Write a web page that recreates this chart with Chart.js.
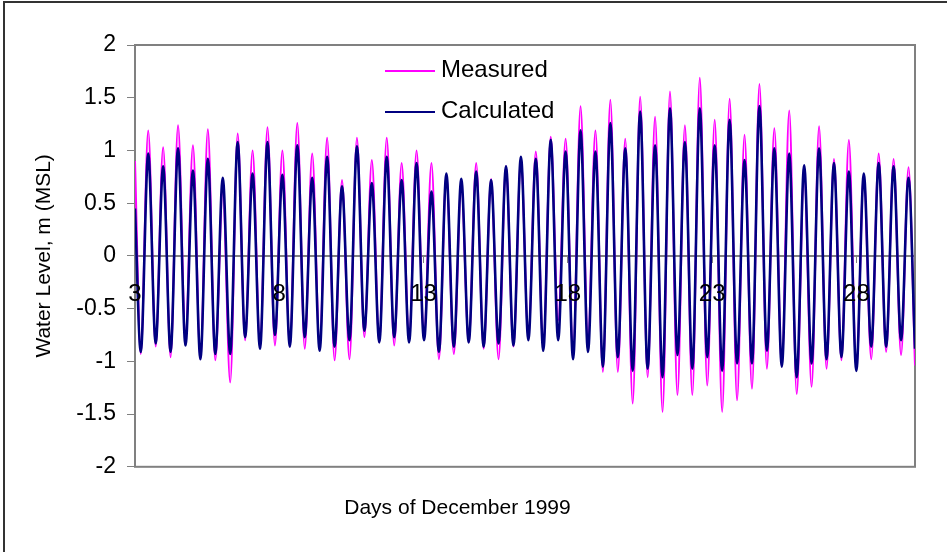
<!DOCTYPE html>
<html>
<head>
<meta charset="utf-8">
<title>Water Level - December 1999</title>
<script src="https://cdn.jsdelivr.net/npm/chart.js@4.4.1/dist/chart.umd.min.js"></script>
<style>
  html, body { margin: 0; padding: 0; background: #fff; }
  #wrap { position: relative; width: 947px; height: 552px; overflow: hidden; }
  #frame {
    position: absolute; left: 3px; top: 1px; width: 1000px; height: 1000px;
    border: 2px solid #333; pointer-events: none; box-sizing: border-box;
  }
</style>
</head>
<body>
<div id="wrap">
  <canvas id="chartTide" width="947" height="552"></canvas>
  <div id="frame"></div>
</div>
<script>
// Dias do eixo x (rótulos sobre a linha do zero)
const dayTicks = [3, 8, 13, 18, 23, 28];
const firstDay = 3;
const lastDay = 30.03;
// as marés (alta/baixa) começam neste dia e se alternam a cada meio ciclo
const firstExtremeDay = 3.2;
const halfCycleDays = 0.2583;

// Nível medido: valor inicial, depois baixa/alta alternadas, valor final
const measured = [
  0.90,
  -0.93, 1.19, -0.86, 1.03, -0.96, 1.24, -0.77, 1.05, -0.98, 1.20, -0.99, 0.62, -1.20, 1.16, -0.80, 1.00, -0.86, 1.22,
  -0.85, 1.00, -0.86, 1.26, -0.88, 0.97, -0.86, 1.12, -0.99, 0.72, -0.98, 1.12, -0.77, 0.91, -0.82, 1.12, -0.85, 0.88,
  -0.79, 1.00, -0.77, 0.88, -0.98, 0.77, -0.93, 0.67, -0.82, 0.88, -0.88, 0.73, -0.98, 0.85, -0.86, 0.92, -0.77, 0.99,
  -0.86, 1.13, -0.61, 1.11, -0.93, 1.42, -0.80, 1.19, -1.10, 1.48, -1.10, 1.11, -1.40, 1.51, -1.15, 1.32, -1.48, 1.56,
  -1.32, 1.24, -1.32, 1.69, -1.23, 1.29, -1.48, 1.49, -1.37, 1.15, -1.26, 1.63, -1.07, 1.21, -1.05, 1.38, -1.31, 0.81,
  -1.24, 1.23, -1.07, 0.92, -0.99, 1.10, -1.07, 0.77, -0.98, 0.97, -0.91, 0.92, -0.94, 0.84,
  -1.04
];

// Nível calculado, mesma ordem
const calculated = [
  0.45,
  -0.91, 0.97, -0.83, 0.85, -0.91, 1.02, -0.85, 0.81, -0.98, 0.92, -0.93, 0.74, -0.93, 1.08, -0.77, 0.78, -0.88, 1.08,
  -0.75, 0.77, -0.86, 1.05, -0.77, 0.74, -0.90, 0.94, -0.86, 0.66, -0.80, 1.04, -0.71, 0.69, -0.82, 0.94, -0.77, 0.72,
  -0.82, 0.88, -0.80, 0.61, -0.91, 0.78, -0.86, 0.73, -0.82, 0.80, -0.86, 0.72, -0.83, 0.85, -0.85, 0.94, -0.80, 0.92,
  -0.90, 1.10, -0.80, 0.99, -0.98, 1.19, -0.91, 0.99, -1.05, 1.26, -0.96, 1.02, -1.09, 1.37, -1.07, 1.05, -1.15, 1.40,
  -0.94, 1.08, -1.07, 1.40, -0.96, 1.05, -1.09, 1.29, -1.02, 0.91, -1.02, 1.42, -0.90, 1.02, -1.05, 0.97, -1.15, 0.86,
  -1.02, 1.02, -0.98, 0.88, -0.96, 0.80, -1.09, 0.78, -0.86, 0.88, -0.86, 0.85, -0.80, 0.74,
  -0.88
];

// Monta os pontos {x: dia, y: nível}
const toPoints = (values) => {
  return values.map((v, i) => {
    let day;
    if (i === 0) {
      day = firstDay;
    } else if (i === values.length - 1) {
      day = lastDay;
    } else {
      day = firstExtremeDay + (i - 1) * halfCycleDays;
    }
    return { x: day, y: v };
  });
};

const fontFamily = "'Liberation Sans', Arial, sans-serif";

// Moldura cinza da área do gráfico
const plotFrame = {
  id: "plotFrame",
  beforeDatasetsDraw(chart) {
    const { ctx, chartArea } = chart;
    ctx.save();
    ctx.strokeStyle = "#808080";
    ctx.lineWidth = 2;
    ctx.strokeRect(chartArea.left, chartArea.top, chartArea.right - chartArea.left, chartArea.bottom - chartArea.top);
    ctx.restore();
  },
};

// Legenda dentro da área do gráfico
const innerLegend = {
  id: "innerLegend",
  afterDraw(chart) {
    const { ctx, chartArea } = chart;
    const items = [chart.data.datasets[0], chart.data.datasets[1]];
    ctx.save();
    ctx.font = "24px " + fontFamily;
    ctx.fillStyle = "#000";
    ctx.textBaseline = "alphabetic";
    items.forEach((ds, i) => {
      const base = chartArea.top + 32 + i * 41;
      const lx = chartArea.left + 250;
      ctx.strokeStyle = ds.borderColor;
      ctx.lineWidth = 2;
      ctx.beginPath();
      ctx.moveTo(lx, base - 6);
      ctx.lineTo(lx + 50, base - 6);
      ctx.stroke();
      ctx.fillText(ds.label, lx + 56, base);
    });
    ctx.restore();
  },
};

const ctxTide = document.getElementById("chartTide");

new Chart(ctxTide, {
  type: "line",
  data: {
    datasets: [
      {
        label: "Measured",
        data: toPoints(measured),
        borderColor: "#FF00FF",
        borderWidth: 2,
        pointRadius: 0,
        cubicInterpolationMode: "monotone",
        order: 1,
      },
      {
        label: "Calculated",
        data: toPoints(calculated),
        borderColor: "#000080",
        borderWidth: 2.6,
        pointRadius: 0,
        cubicInterpolationMode: "monotone",
        order: 0,
      },
    ],
  },
  options: {
    responsive: false,
    animation: false,
    layout: { padding: { left: 0, right: 32, top: 45, bottom: 0 } },
    plugins: {
      legend: { display: false },
      tooltip: { enabled: false },
      title: {
        display: true,
        position: "bottom",
        text: "Days of December 1999",
        color: "#000",
        font: { family: fontFamily, size: 21, weight: "normal" },
        padding: { top: 29, bottom: 31 },
      },
    },
    scales: {
      x: {
        type: "linear",
        position: { y: 0 },
        min: firstDay,
        max: lastDay,
        afterBuildTicks: (scale) => {
          scale.ticks = dayTicks.map((d) => ({ value: d }));
        },
        grid: { drawOnChartArea: false, drawTicks: true, tickLength: 6, color: "#808080" },
        border: { display: true, color: "#808080", width: 2 },
        ticks: {
          z: 1,
          color: "#000",
          padding: 18,
          maxRotation: 0,
          font: { family: fontFamily, size: 24 },
          callback: (v) => v,
        },
      },
      y: {
        min: -2,
        max: 2,
        afterFit: (scale) => {
          scale.width = 135;
        },
        ticks: {
          stepSize: 0.5,
          color: "#000",
          padding: 11,
          font: { family: fontFamily, size: 23 },
          callback: (v) => String(Number(v)),
        },
        grid: { drawOnChartArea: false, drawTicks: true, tickLength: 8, color: "#808080" },
        border: { display: true, color: "#808080", width: 2 },
        title: {
          display: true,
          text: "Water Level, m (MSL)",
          color: "#000",
          font: { family: fontFamily, size: 21 },
          padding: { top: 32, bottom: 0 },
        },
      },
    },
  },
  plugins: [plotFrame, innerLegend],
});
</script>
</body>
</html>
